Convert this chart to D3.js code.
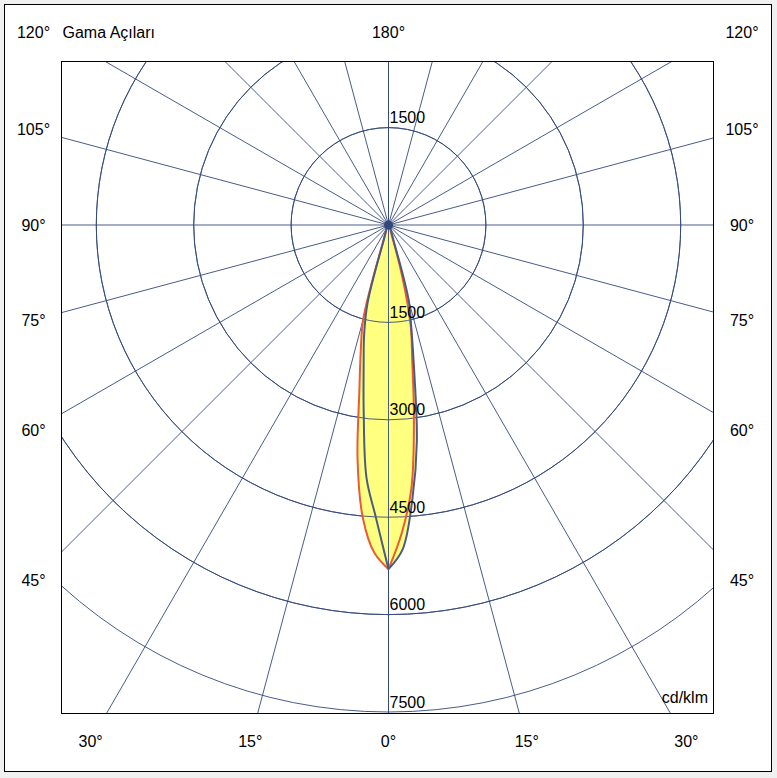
<!DOCTYPE html>
<html>
<head>
<meta charset="utf-8">
<script src="https://cdn.jsdelivr.net/npm/d3@7"></script>
<style>
  html, body { margin: 0; padding: 0; background: #f0f0f0; }
  svg { display: block; }
  text { font-family: "Liberation Sans", Arial, sans-serif; font-size: 16px; fill: #000; }
</style>
</head>
<body>
<div id="vis"></div>
<script>
// gamma angles (deg) and intensities in cd/klm for each C half-plane
const gammas = [0, 2.5, 5, 7.5, 10, 12.5, 15, 17.5, 20, 30, 45, 60, 75, 90, 105, 120, 135, 150, 165, 180];
const c0   = [5300, 4740, 4060, 3000, 2100, 1580, 800, 150, 0, 0, 0, 0, 0, 0, 0, 0, 0, 0, 0, 0];
const c180 = [5300, 5050, 4530, 3650, 2580, 1970, 1500, 300, 0, 0, 0, 0, 0, 0, 0, 0, 0, 0, 0, 0];
const c90  = [5300, 5000, 4230, 3350, 2280, 1620, 1200, 300, 0, 0, 0, 0, 0, 0, 0, 0, 0, 0, 0, 0];
const c270 = [5300, 4500, 3900, 2925, 2205, 1735, 1250, 250, 0, 0, 0, 0, 0, 0, 0, 0, 0, 0, 0, 0];

const rings = [1500, 3000, 4500, 6000, 7500];
const spokes = [0, 15, 30, 45, 60, 75, 90, 105, 120, 135, 150, 165, 180];
const sideLabels = [45, 60, 75, 90, 105, 120];
const bottomLabels = [0, 15, 30];
const topLabels = [180];

const W = 777, H = 778;
const cx = 388.5, cy = 225;
const plot = { x0: 61.5, y0: 61.5, x1: 713.5, y1: 713.5 };
const gridColor = '#34497a';
const redColor = '#ec5a35';
const blueColor = '#4c5c80';

const r = d3.scaleLinear().domain([0, 7500]).range([0, 487]);

const svg = d3.select('#vis').append('svg')
    .attr('width', W)
    .attr('height', H);

// white panel with border
svg.append('rect')
    .attr('x', 4.5).attr('y', 4.5)
    .attr('width', 767).attr('height', 767)
    .attr('fill', '#fff')
    .attr('stroke', '#000');

svg.append('clipPath').attr('id', 'plotClip')
    .append('rect')
    .attr('x', plot.x0).attr('y', plot.y0)
    .attr('width', plot.x1 - plot.x0).attr('height', plot.y1 - plot.y0);

const g = svg.append('g').attr('clip-path', 'url(#plotClip)');
const grid = g.append('g').attr('transform', `translate(${cx},${cy})`);

// rings
grid.selectAll('.ring')
    .data(rings)
    .join('circle')
    .attr('class', 'ring')
    .attr('r', d => r(d))
    .attr('fill', 'none')
    .attr('stroke', gridColor)
    .attr('stroke-width', 0.9);

// spokes, both sides
const spokeAll = spokes.flatMap(a => [a, -a]);
grid.selectAll('.spoke')
    .data(spokeAll)
    .join('line')
    .attr('class', 'spoke')
    .attr('x1', 0).attr('y1', 0)
    .attr('x2', d => r(12000) * Math.sin(d * Math.PI / 180))
    .attr('y2', d => r(12000) * Math.cos(d * Math.PI / 180))
    .attr('stroke', gridColor)
    .attr('stroke-width', 0.9);

// beam curve: starts at the tip, right half-plane up to the centre,
// then left half-plane back down to the tip (open curve keeps the tip sharp)
function halfPlanePoints(right, left) {
    const pts = [];
    gammas.forEach((gm, i) => {
        if (right[i] > 0) pts.push([Math.PI - gm * Math.PI / 180, r(right[i])]);
    });
    pts.push([Math.PI, 0]);
    for (let i = gammas.length - 1; i >= 0; i--) {
        if (left[i] > 0) pts.push([Math.PI + gammas[i] * Math.PI / 180, r(left[i])]);
    }
    return pts;
}
const radial = d3.lineRadial()
    .angle(d => d[0])
    .radius(d => d[1])
    .curve(d3.curveCatmullRom.alpha(0.5));

const curves = [
    { pts: halfPlanePoints(c0, c180), color: redColor },
    { pts: halfPlanePoints(c90, c270), color: blueColor }
];

const beam = g.append('g').attr('transform', `translate(${cx},${cy})`);
beam.selectAll('.fill')
    .data(curves)
    .join('path')
    .attr('class', 'fill')
    .attr('d', d => radial(d.pts) + 'Z')
    .attr('fill', '#ffff80')
    .attr('stroke', 'none');

// grid lines show through the yellow
beam.selectAll('.ringOver')
    .data(rings.slice(0, 4))
    .join('circle')
    .attr('class', 'ringOver')
    .attr('r', d => r(d))
    .attr('fill', 'none')
    .attr('stroke', gridColor)
    .attr('stroke-width', 0.9);
beam.append('line')
    .attr('x1', 0).attr('y1', 0).attr('x2', 0).attr('y2', r(7500))
    .attr('stroke', gridColor)
    .attr('stroke-width', 0.9);

beam.selectAll('.outline')
    .data(curves)
    .join('path')
    .attr('class', 'outline')
    .attr('d', d => radial(d.pts))
    .attr('fill', 'none')
    .attr('stroke', d => d.color)
    .attr('stroke-width', 2)
    .attr('stroke-linejoin', 'round');

// center dot
svg.append('circle')
    .attr('cx', cx).attr('cy', cy).attr('r', 4.5)
    .attr('fill', '#34477a');

// plot frame
svg.append('rect')
    .attr('x', plot.x0).attr('y', plot.y0)
    .attr('width', plot.x1 - plot.x0).attr('height', plot.y1 - plot.y0)
    .attr('fill', 'none')
    .attr('stroke', '#000');

// ring labels (upper 1500 and lower series)
svg.append('text')
    .attr('x', cx + 1).attr('y', cy - r(1500) - 4.5)
    .text('1500');
svg.selectAll('.ringLabel')
    .data(rings)
    .join('text')
    .attr('class', 'ringLabel')
    .attr('x', cx + 1)
    .attr('y', d => cy + r(d) - 4.5)
    .text(d => d);

// angle labels
const leftX = 33.5, rightX = 742, topY = 32, bottomY = 741;
const rad = a => a * Math.PI / 180;

sideLabels.forEach(a => {
    let y = cy + (cx - leftX) / Math.tan(rad(a));
    if (a === 90) y = cy;
    y = Math.max(topY, Math.min(bottomY, y));
    [leftX, rightX].forEach(x => {
        svg.append('text')
            .attr('x', x).attr('y', y)
            .attr('text-anchor', 'middle')
            .attr('dy', '0.35em')
            .text(a + '°');
    });
});

bottomLabels.forEach(a => {
    const dx = (bottomY - cy) * Math.tan(rad(a));
    const xs = a === 0 ? [cx] : [cx - dx, cx + dx];
    xs.forEach(x => {
        svg.append('text')
            .attr('x', x).attr('y', bottomY)
            .attr('text-anchor', 'middle')
            .attr('dy', '0.35em')
            .text(a + '°');
    });
});

topLabels.forEach(a => {
    svg.append('text')
        .attr('x', cx).attr('y', topY)
        .attr('text-anchor', 'middle')
        .attr('dy', '0.35em')
        .text(a + '°');
});

svg.append('text')
    .attr('x', 62.5).attr('y', topY)
    .attr('dy', '0.35em')
    .text('Gama Açıları');

svg.append('text')
    .attr('x', 708).attr('y', 703)
    .attr('text-anchor', 'end')
    .text('cd/klm');
</script>
</body>
</html>
